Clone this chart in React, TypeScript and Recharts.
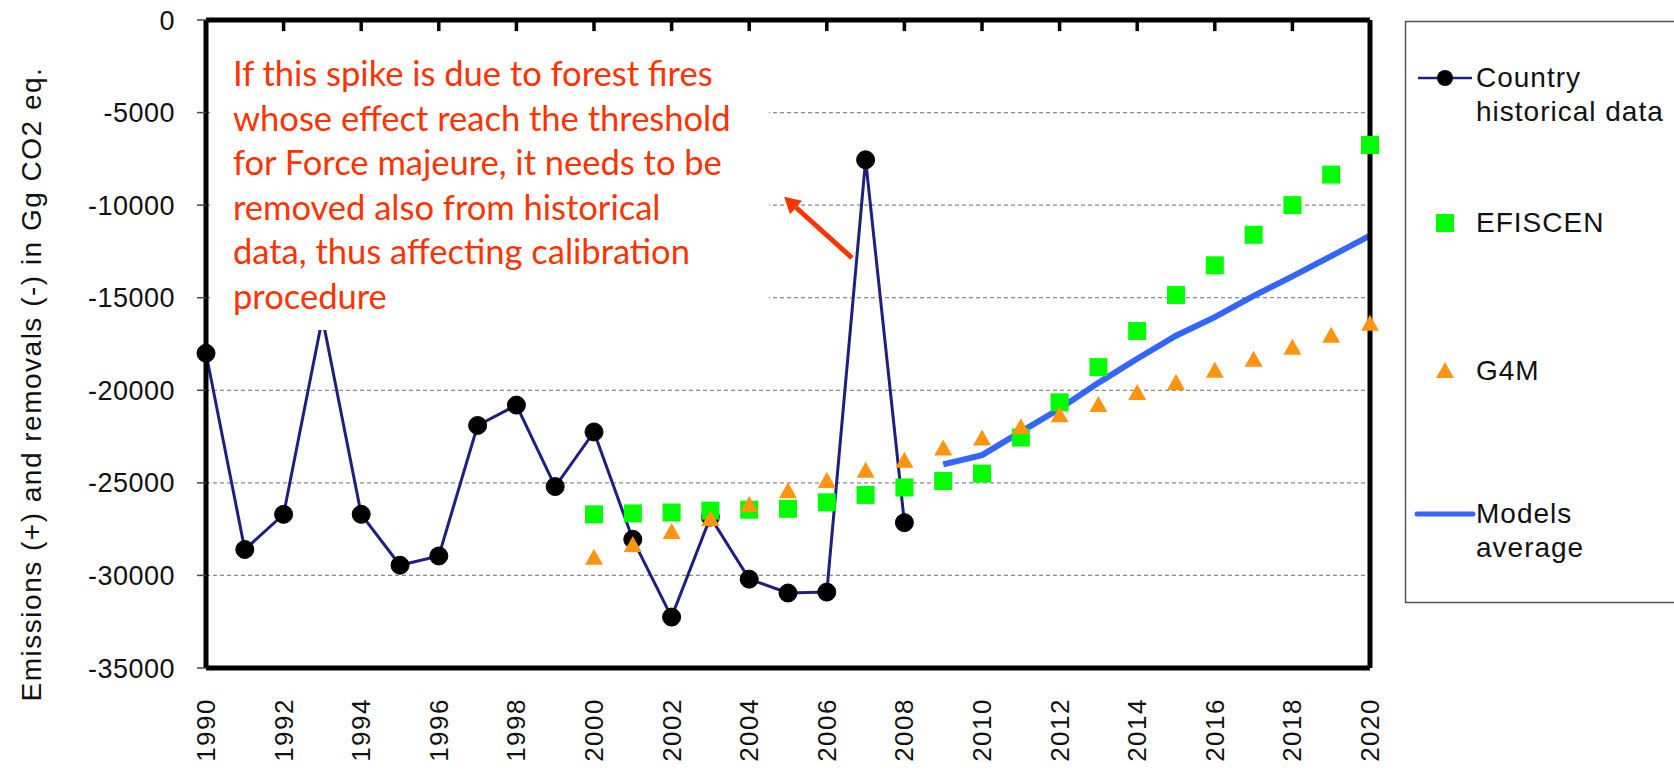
import React from 'react';
import { ComposedChart, Line, XAxis, YAxis, CartesianGrid, ReferenceLine } from 'recharts';

// years on the axis
const years = [
  1990, 1991, 1992, 1993, 1994, 1995, 1996, 1997, 1998, 1999, 2000,
  2001, 2002, 2003, 2004, 2005, 2006, 2007, 2008, 2009, 2010,
  2011, 2012, 2013, 2014, 2015, 2016, 2017, 2018, 2019, 2020,
];
const xTicks = [1990, 1992, 1994, 1996, 1998, 2000, 2002, 2004, 2006, 2008, 2010, 2012, 2014, 2016, 2018, 2020];
const yTicks = [0, -5000, -10000, -15000, -20000, -25000, -30000, -35000];

// Country historical data, 1990-2008
const historicalStart = 1990;
const historical = [
  -18000, -28600, -26700, -16100, -26700, -29450, -28950, -21900, -20800, -25200,
  -22250, -28050, -32250, -26850, -30200, -30950, -30900, -7550, -27150,
];

// EFISCEN, 2000-2020
const efiscenStart = 2000;
const efiscen = [
  -26700, -26650, -26600, -26500, -26450, -26400, -26050, -25650, -25250, -24900,
  -24500, -22550, -20650, -18750, -16800, -14850, -13250, -11600, -10000, -8350, -6750,
];

// G4M, 2000-2020
const g4mStart = 2000;
const g4m = [
  -29050, -28350, -27650, -26950, -26200, -25450, -24900, -24350, -23800, -23150,
  -22600, -22000, -21350, -20800, -20150, -19600, -18950, -18350, -17700, -17050, -16400,
];

// Models average, 2009-2020
const avgStart = 2009;
const modelsAvg = [
  -24000, -23500, -22250, -21000, -19600, -18300, -17050, -16050, -14900, -13850, -12750, -11650,
];

const pick = (arr: number[], start: number, year: number) => {
  const v = arr[year - start];
  return v === undefined ? null : v;
};

const rows = years.map((year) => ({
  year,
  hist: pick(historical, historicalStart, year),
  efiscen: pick(efiscen, efiscenStart, year),
  g4m: pick(g4m, g4mStart, year),
  avg: pick(modelsAvg, avgStart, year),
}));

const annotation = [
  'If this spike is due to forest fires',
  'whose effect reach the threshold',
  'for Force majeure, it needs to be',
  'removed also from historical',
  'data, thus affecting calibration',
  'procedure',
];

const NAVY = '#1f1f80';
const GREEN = '#00ff00';
const ORANGE = '#ff9410';
const BLUE = '#3366ff';
const RED = '#ff3300';
const FONT = '"Liberation Sans", Arial, sans-serif';

const Square = (props: any) => {
  const { cx, cy, index } = props;
  if (cx == null || cy == null || props.value == null) return <g key={`sq-${index}`} />;
  return <rect key={`sq-${index}`} x={cx - 9} y={cy - 9} width={18} height={18} fill={GREEN} />;
};

const Triangle = (props: any) => {
  const { cx, cy, index } = props;
  if (cx == null || cy == null || props.value == null) return <g key={`tr-${index}`} />;
  return (
    <polygon
      key={`tr-${index}`}
      points={`${cx},${cy - 9} ${cx + 9},${cy + 7} ${cx - 9},${cy + 7}`}
      fill={ORANGE}
    />
  );
};

const YearTick = (props: any) => {
  const { x, y, payload } = props;
  return (
    <text
      x={x}
      y={y}
      transform={`rotate(-90, ${x}, ${y})`}
      textAnchor="end"
      dominantBaseline="central"
      fontSize={26}
      letterSpacing={1.5}
      fill="#111"
      fontFamily={FONT}
    >
      {payload.value}
    </text>
  );
};

const Arrow = (props: any) => {
  const { x1, y1, x2, y2 } = props;
  const ang = Math.atan2(y2 - y1, x2 - x1);
  const len = 16;
  const hw = 9;
  const bx = x2 - len * Math.cos(ang);
  const by = y2 - len * Math.sin(ang);
  const px = -Math.sin(ang) * hw;
  const py = Math.cos(ang) * hw;
  return (
    <g>
      <line x1={x1} y1={y1} x2={bx} y2={by} stroke={RED} strokeWidth={5} />
      <polygon points={`${x2},${y2} ${bx + px},${by + py} ${bx - px},${by - py}`} fill={RED} />
    </g>
  );
};

const legendText: React.CSSProperties = {
  position: 'absolute',
  left: 1476,
  fontSize: 28,
  letterSpacing: 1,
  lineHeight: '34px',
  color: '#111',
  whiteSpace: 'nowrap',
};

export default function App() {
  return (
    <div style={{ position: 'absolute', left: 0, top: 0, width: 1674, height: 770, background: '#fff', fontFamily: FONT, overflow: 'hidden' }}>
      <ComposedChart width={1674} height={770} data={rows} margin={{ top: 20, right: 304, bottom: 0, left: 0 }}>
        <CartesianGrid vertical={false} stroke="#8a8a8a" strokeDasharray="4 3" strokeWidth={1.2} />
        <XAxis
          dataKey="year"
          type="number"
          domain={[1990, 2020]}
          ticks={xTicks}
          interval={0}
          height={102}
          axisLine={false}
          tickLine={false}
          tickSize={0}
          tickMargin={30}
          tick={<YearTick />}
        />
        <YAxis
          type="number"
          domain={[-35000, 0]}
          ticks={yTicks}
          interval={0}
          width={206}
          axisLine={false}
          tickLine={{ stroke: '#444', strokeWidth: 1.5 }}
          tickSize={9}
          tickMargin={22}
          tick={{ fontSize: 27, fill: '#111', fontFamily: FONT, letterSpacing: 0.5 }}
        />

        <Line dataKey="hist" stroke={NAVY} strokeWidth={3} isAnimationActive={false}
          dot={{ r: 9, fill: '#000', stroke: '#000', strokeWidth: 1 }} />
        <Line dataKey="avg" stroke={BLUE} strokeWidth={6} dot={false} isAnimationActive={false} />
        <Line dataKey="efiscen" stroke="none" dot={<Square />} isAnimationActive={false} />
        <Line dataKey="g4m" stroke="none" dot={<Triangle />} isAnimationActive={false} />

        <ReferenceLine
          segment={[{ x: 2006.65, y: -12850 }, { x: 2004.9, y: -9550 }]}
          shape={(p: any) => <Arrow {...p} />}
        />

        {/* small inward ticks along the top edge */}
        {xTicks.slice(1, -1).map((t) => (
          <ReferenceLine key={`tt-${t}`} segment={[{ x: t, y: 0 }, { x: t, y: -600 }]} stroke="#000" strokeWidth={3.5} />
        ))}

        {/* plot frame */}
        <ReferenceLine x={1990} stroke="#000" strokeWidth={5} />
        <ReferenceLine x={2020} stroke="#000" strokeWidth={5} />
        <ReferenceLine y={0} stroke="#000" strokeWidth={5} />
        <ReferenceLine y={-35000} stroke="#000" strokeWidth={5} />
      </ComposedChart>

      {/* annotation box */}
      <div style={{ position: 'absolute', left: 210, top: 32, width: 559, height: 298, background: '#fff' }}>
        <div style={{ position: 'absolute', left: 23, top: 19, fontFamily: 'Lato, "Open Sans", sans-serif', fontSize: 34.5, lineHeight: '44.5px', color: RED, whiteSpace: 'nowrap' }}>
          {annotation.map((t) => (
            <div key={t}>{t}</div>
          ))}
        </div>
      </div>

      <svg style={{ position: 'absolute', left: 0, top: 0 }} width={1674} height={770} pointerEvents="none">
        {/* y axis title */}
        <text x={31} y={384} transform="rotate(-90, 31, 384)" textAnchor="middle" dominantBaseline="central"
          fontSize={28} letterSpacing={1.5} fill="#111" fontFamily={FONT}>
          Emissions (+) and removals (-) in Gg CO2 eq.
        </text>

        {/* legend */}
        <rect x={1405.5} y={21.5} width={300} height={581} fill="none" stroke="#555" strokeWidth={1.5} />
        <line x1={1418} y1={78} x2={1472} y2={78} stroke={NAVY} strokeWidth={2.5} />
        <circle cx={1445} cy={78} r={8} fill="#000" />
        <rect x={1436} y={214} width={18} height={18} fill={GREEN} />
        <polygon points="1445,362 1454,378 1436,378" fill={ORANGE} />
        <line x1={1417} y1={514} x2={1473} y2={514} stroke={BLUE} strokeWidth={5} strokeLinecap="round" />
      </svg>
      <div style={{ ...legendText, top: 61 }}>Country<br />historical data</div>
      <div style={{ ...legendText, top: 206 }}>EFISCEN</div>
      <div style={{ ...legendText, top: 354 }}>G4M</div>
      <div style={{ ...legendText, top: 497 }}>Models<br />average</div>
    </div>
  );
}
